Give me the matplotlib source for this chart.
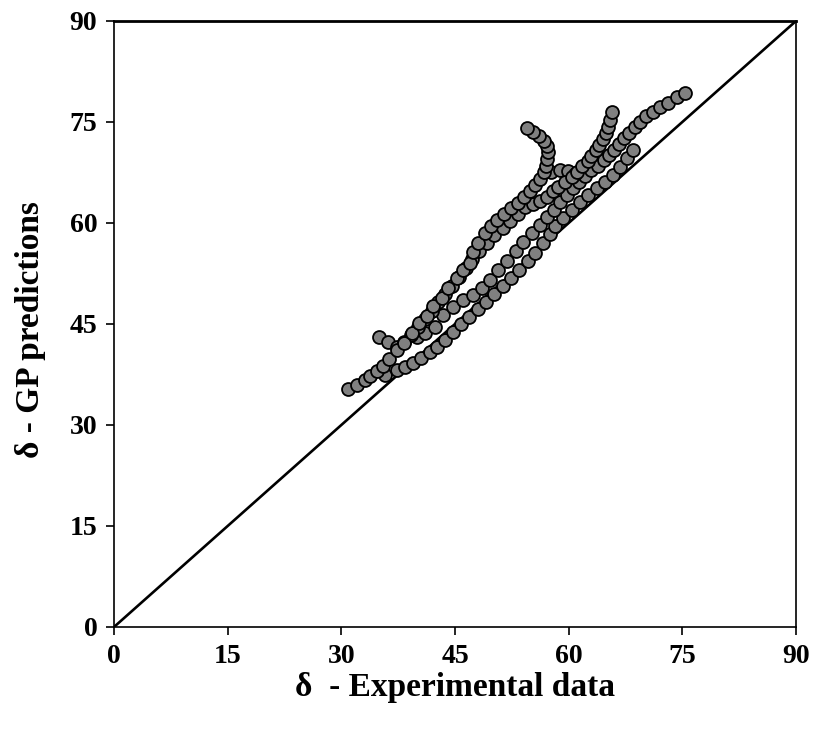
import matplotlib
matplotlib.use("Agg")
import matplotlib.pyplot as plt

# Chains of (experimental, predicted) points
chain_a_x = [30.9, 32.1, 33.1, 33.8, 34.7, 35.5, 36.3, 37.3, 38.3, 39.3, 40.2, 41.3, 42.1, 43.3, 44.1,
             45.3, 46.1, 47.0, 47.4, 48.0, 49.0, 49.8, 50.6, 51.5, 52.4, 53.3, 54.1, 54.9, 55.6, 56.2,
             56.7, 57.0, 57.2, 57.3, 57.1, 56.7, 56.1, 55.3, 54.5]
chain_a_y = [35.3, 35.9, 36.7, 37.3, 38.0, 38.8, 39.8, 41.1, 42.2, 43.7, 45.2, 46.2, 47.7, 48.9, 50.3,
             51.8, 53.0, 54.1, 55.7, 57.0, 58.5, 59.5, 60.5, 61.4, 62.2, 63.0, 63.8, 64.7, 65.6, 66.5,
             67.5, 68.5, 69.5, 70.5, 71.4, 72.2, 72.9, 73.5, 74.1]

chain_b_x = [35.0, 36.2, 37.3, 38.3, 39.2, 40.1, 41.0, 41.9, 42.8, 43.7, 44.6, 45.5, 46.4, 47.3, 48.2,
             49.2, 50.2, 51.3, 52.3, 53.3, 54.3, 55.3, 56.2, 57.1, 57.9, 58.6, 59.5, 60.4, 61.1, 61.8,
             62.5, 63.0, 63.6, 64.0, 64.5, 64.9, 65.2, 65.5, 65.7]
chain_b_y = [43.1, 42.3, 41.6, 42.3, 43.4, 44.6, 45.8, 47.0, 48.2, 49.4, 50.7, 52.0, 53.3, 54.6, 55.9,
             57.1, 58.2, 59.2, 60.3, 61.3, 62.3, 62.8, 63.2, 63.9, 64.7, 65.3, 66.1, 66.9, 67.6, 68.5,
             69.2, 70.0, 70.8, 71.6, 72.4, 73.4, 74.3, 75.3, 76.5]

chain_c_x = [40.0, 41.0, 42.4, 43.4, 44.7, 46.0, 47.4, 48.6, 49.6, 50.7, 51.9, 53.0, 54.0, 55.1, 56.2,
             57.1, 58.0, 58.9, 59.8, 60.6, 61.4, 62.2, 63.0, 63.9, 64.6, 65.3, 66.0, 66.6, 67.3, 68.0,
             68.7, 69.4, 70.2, 71.1, 72.0, 73.1, 74.3, 75.3]
chain_c_y = [43.0, 43.7, 44.6, 46.3, 47.5, 48.6, 49.3, 50.3, 51.5, 53.0, 54.3, 55.8, 57.2, 58.5, 59.7,
             60.9, 61.9, 63.1, 64.2, 65.2, 66.1, 67.0, 67.8, 68.5, 69.3, 70.1, 70.9, 71.8, 72.6, 73.4,
             74.3, 75.0, 75.9, 76.5, 77.2, 77.8, 78.7, 79.3]

chain_l_x = [35.8, 37.3, 38.4, 39.5, 40.5, 41.7, 42.6, 43.7, 44.7, 45.8, 46.9, 48.0, 49.1, 50.2, 51.3,
             52.4, 53.5, 54.6, 55.6, 56.6, 57.5, 58.2, 59.3, 60.4, 61.5, 62.5, 63.7, 64.8, 65.8, 66.8,
             67.7, 68.5]
chain_l_y = [37.4, 38.2, 38.6, 39.2, 40.0, 40.8, 41.6, 42.6, 43.8, 45.0, 46.1, 47.2, 48.3, 49.4, 50.6,
             51.8, 53.0, 54.3, 55.6, 57.0, 58.4, 59.5, 60.8, 62.0, 63.1, 64.2, 65.2, 66.1, 67.1, 68.3,
             69.6, 70.9]

chain_e_x = [57.7, 58.8, 59.9, 60.8]
chain_e_y = [67.5, 67.9, 67.7, 67.2]

ticks = [0, 15, 30, 45, 60, 75, 90]

plt.rcParams['font.family'] = ['Liberation Serif', 'DejaVu Serif']

fig = plt.figure(figsize=(8.15, 7.31), dpi=100)
ax = fig.add_axes([0.1399, 0.1423, 0.9767 - 0.1399, 0.9713 - 0.1423])

ax.plot([0, 90], [0, 90], color='black', lw=1.9, zorder=2)

for xs, ys in [(chain_l_x, chain_l_y), (chain_c_x, chain_c_y), (chain_e_x, chain_e_y),
               (chain_b_x, chain_b_y), (chain_a_x, chain_a_y)]:
    ax.plot(xs, ys, linestyle='none', marker='o', markersize=9.3,
            markerfacecolor='#808080', markeredgecolor='black', markeredgewidth=1.3, zorder=3)

ax.set_xlim(0, 90)
ax.set_ylim(0, 90)
ax.set_xticks(ticks)
ax.set_yticks(ticks)
ax.set_xticklabels([str(t) for t in ticks], fontsize=20, fontweight='bold')
ax.set_yticklabels([str(t) for t in ticks], fontsize=20, fontweight='bold')
ax.tick_params(axis='both', direction='out', length=6, width=1.2)
ax.tick_params(axis='x', pad=6)
ax.tick_params(axis='y', pad=6)

for side in ['left', 'bottom', 'right']:
    ax.spines[side].set_linewidth(1.2)
ax.spines['top'].set_linewidth(2.0)

ax.set_xlabel('δ  - Experimental data', fontsize=24, fontweight='bold')
ax.set_ylabel('δ - GP predictions', fontsize=24, fontweight='bold')
ax.xaxis.set_label_coords(0.5, -0.075)
ax.yaxis.set_label_coords(-0.1, 0.49)

fig.savefig('out.png', dpi=100)
